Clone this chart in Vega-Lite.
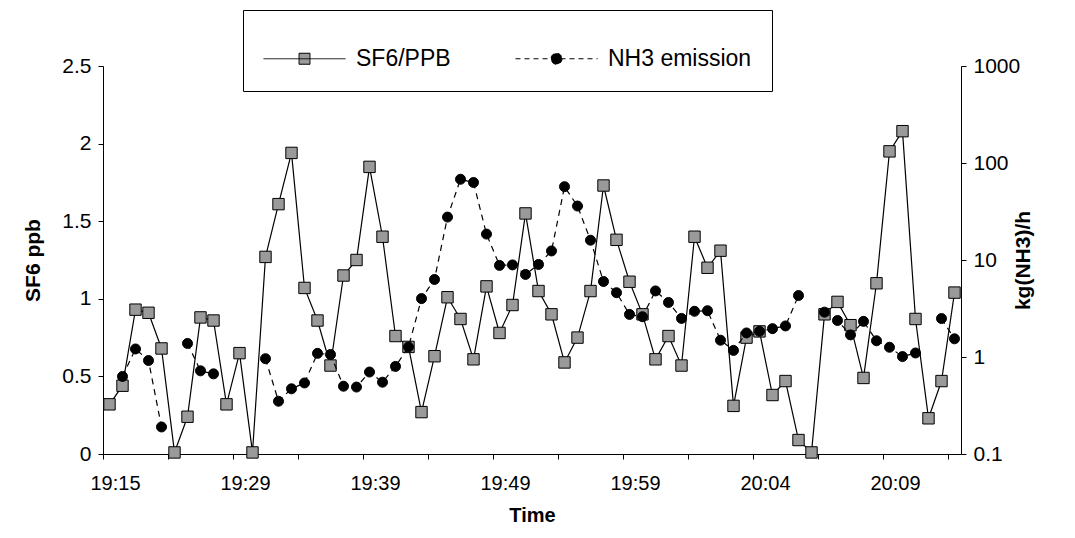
{
  "$schema": "https://vega.github.io/schema/vega-lite/v6.json",
  "width": 858,
  "height": 388,
  "autosize": "none",
  "padding": {"left": 103, "top": 66, "right": 114, "bottom": 84},
  "background": "white",
  "config": {
    "font": "Liberation Sans",
    "view": {"stroke": null},
    "axis": {"domainColor": "black", "tickColor": "black", "labelColor": "black", "titleColor": "black", "grid": false, "labelFontSize": 20, "titleFontSize": 20, "titleFontWeight": "bold", "labelFont": "Liberation Sans", "titleFont": "Liberation Sans", "tickSize": 5, "domainWidth": 1, "tickWidth": 1}
  },
  "data": {
    "values": [
      {"i": 0, "time": "19:15", "sf6": 0.32, "nh3": null},
      {"i": 1, "sf6": 0.44, "nh3": 0.63},
      {"i": 2, "sf6": 0.93, "nh3": 1.21},
      {"i": 3, "sf6": 0.91, "nh3": 0.92},
      {"i": 4, "sf6": 0.68, "nh3": 0.19},
      {"i": 5, "sf6": 0.01, "nh3": null},
      {"i": 6, "sf6": 0.24, "nh3": 1.38},
      {"i": 7, "sf6": 0.88, "nh3": 0.72},
      {"i": 8, "sf6": 0.86, "nh3": 0.67},
      {"i": 9, "sf6": 0.32, "nh3": null},
      {"i": 10, "time": "19:29", "sf6": 0.65, "nh3": null},
      {"i": 11, "sf6": 0.01, "nh3": null},
      {"i": 12, "sf6": 1.27, "nh3": 0.96},
      {"i": 13, "sf6": 1.61, "nh3": 0.35},
      {"i": 14, "sf6": 1.94, "nh3": 0.47},
      {"i": 15, "sf6": 1.07, "nh3": 0.54},
      {"i": 16, "sf6": 0.86, "nh3": 1.09},
      {"i": 17, "sf6": 0.57, "nh3": 1.06},
      {"i": 18, "sf6": 1.15, "nh3": 0.5},
      {"i": 19, "sf6": 1.25, "nh3": 0.49},
      {"i": 20, "time": "19:39", "sf6": 1.85, "nh3": 0.7},
      {"i": 21, "sf6": 1.4, "nh3": 0.55},
      {"i": 22, "sf6": 0.76, "nh3": 0.8},
      {"i": 23, "sf6": 0.69, "nh3": 1.27},
      {"i": 24, "sf6": 0.27, "nh3": 4.0},
      {"i": 25, "sf6": 0.63, "nh3": 6.3},
      {"i": 26, "sf6": 1.01, "nh3": 27.7},
      {"i": 27, "sf6": 0.87, "nh3": 68},
      {"i": 28, "sf6": 0.61, "nh3": 63},
      {"i": 29, "sf6": 1.08, "nh3": 18.5},
      {"i": 30, "time": "19:49", "sf6": 0.78, "nh3": 8.8},
      {"i": 31, "sf6": 0.96, "nh3": 8.9},
      {"i": 32, "sf6": 1.55, "nh3": 7.1},
      {"i": 33, "sf6": 1.05, "nh3": 9.0},
      {"i": 34, "sf6": 0.9, "nh3": 12.4},
      {"i": 35, "sf6": 0.59, "nh3": 57},
      {"i": 36, "sf6": 0.75, "nh3": 36},
      {"i": 37, "sf6": 1.05, "nh3": 16},
      {"i": 38, "sf6": 1.73, "nh3": 6.0},
      {"i": 39, "sf6": 1.38, "nh3": 4.6},
      {"i": 40, "time": "19:59", "sf6": 1.11, "nh3": 2.75},
      {"i": 41, "sf6": 0.9, "nh3": 2.6},
      {"i": 42, "sf6": 0.61, "nh3": 4.8},
      {"i": 43, "sf6": 0.76, "nh3": 3.65},
      {"i": 44, "sf6": 0.57, "nh3": 2.5},
      {"i": 45, "sf6": 1.4, "nh3": 2.96},
      {"i": 46, "sf6": 1.2, "nh3": 3.0},
      {"i": 47, "sf6": 1.31, "nh3": 1.49},
      {"i": 48, "sf6": 0.31, "nh3": 1.17},
      {"i": 49, "sf6": 0.75, "nh3": 1.77},
      {"i": 50, "time": "20:04", "sf6": 0.79, "nh3": 1.84},
      {"i": 51, "sf6": 0.38, "nh3": 1.96},
      {"i": 52, "sf6": 0.47, "nh3": 2.09},
      {"i": 53, "sf6": 0.09, "nh3": 4.3},
      {"i": 54, "sf6": 0.01, "nh3": null},
      {"i": 55, "sf6": 0.9, "nh3": 2.9},
      {"i": 56, "sf6": 0.98, "nh3": 2.38},
      {"i": 57, "sf6": 0.83, "nh3": 1.69},
      {"i": 58, "sf6": 0.49, "nh3": 2.33},
      {"i": 59, "sf6": 1.1, "nh3": 1.47},
      {"i": 60, "time": "20:09", "sf6": 1.95, "nh3": 1.26},
      {"i": 61, "sf6": 2.08, "nh3": 1.01},
      {"i": 62, "sf6": 0.87, "nh3": 1.1},
      {"i": 63, "sf6": 0.23, "nh3": null},
      {"i": 64, "sf6": 0.47, "nh3": 2.49},
      {"i": 65, "sf6": 1.04, "nh3": 1.54}
    ]
  },
  "layer": [
    {
      "encoding": {
        "x": {
          "field": "i", "type": "ordinal",
          "scale": {"type": "point", "padding": 0.5},
          "axis": {
            "title": "Time", "titlePadding": 12,
            "values": [0, 5, 10, 15, 20, 25, 30, 35, 40, 45, 50, 55, 60, 65],
            "labelAngle": 0, "tickOffset": -6.5, "labelOffset": 12, "labelPadding": 14,
            "labelExpr": "datum.value == 0 ? '19:15' : datum.value == 10 ? '19:29' : datum.value == 20 ? '19:39' : datum.value == 30 ? '19:49' : datum.value == 40 ? '19:59' : datum.value == 50 ? '20:04' : datum.value == 60 ? '20:09' : ''"
          }
        },
        "y": {
          "field": "sf6", "type": "quantitative",
          "scale": {"domain": [0, 2.5], "nice": false, "zero": true},
          "axis": {"title": "SF6 ppb", "orient": "left", "values": [0, 0.5, 1, 1.5, 2, 2.5], "format": "~g", "labelPadding": 7, "titlePadding": 18, "labelFontSize": 21, "titleFontSize": 21}
        }
      },
      "layer": [
        {"mark": {"type": "line", "color": "black", "strokeWidth": 1.2}},
        {"mark": {"type": "point", "shape": "square", "filled": true, "fill": "#9a9a9a", "stroke": "black", "strokeWidth": 1, "size": 130, "opacity": 1}}
      ]
    },
    {
      "encoding": {
        "x": {
          "field": "i", "type": "ordinal",
          "scale": {"type": "point", "padding": 0.5},
          "axis": {
            "title": "Time", "titlePadding": 12,
            "values": [0, 5, 10, 15, 20, 25, 30, 35, 40, 45, 50, 55, 60, 65],
            "labelAngle": 0, "tickOffset": -6.5, "labelOffset": 12, "labelPadding": 14,
            "labelExpr": "datum.value == 0 ? '19:15' : datum.value == 10 ? '19:29' : datum.value == 20 ? '19:39' : datum.value == 30 ? '19:49' : datum.value == 40 ? '19:59' : datum.value == 50 ? '20:04' : datum.value == 60 ? '20:09' : ''"
          }
        },
        "y": {
          "field": "nh3", "type": "quantitative",
          "scale": {"type": "log", "domain": [0.1, 1000], "nice": false},
          "axis": {"title": "kg(NH3)/h", "orient": "right", "values": [0.1, 1, 10, 100, 1000], "format": "~g", "labelPadding": 7, "titlePadding": 14, "titleAngle": 270, "labelFontSize": 21, "titleFontSize": 21}
        }
      },
      "layer": [
        {"mark": {"type": "line", "color": "black", "strokeWidth": 1.2, "strokeDash": [6, 5], "invalid": "break-paths-show-domains"}},
        {"mark": {"type": "point", "shape": "circle", "filled": true, "fill": "black", "stroke": "black", "strokeWidth": 1, "size": 100, "opacity": 1}}
      ]
    },
    {
      "transform": [
        {"fold": ["sf6", "nh3"], "as": ["series", "val"]},
        {"filter": "datum.i < 0"}
      ],
      "mark": {"type": "point", "filled": true, "strokeWidth": 1},
      "encoding": {
        "color": {
          "field": "series", "type": "nominal",
          "scale": {"domain": ["sf6", "nh3"], "range": ["#9a9a9a", "black"]},
          "legend": {
            "title": null, "orient": "none", "legendX": 140, "legendY": -56,
            "direction": "horizontal", "columns": 2, "strokeColor": "black", "padding": 20,
            "columnPadding": 62, "symbolSize": 3136, "labelFontSize": 23, "labelColor": "black",
            "labelOffset": 36, "labelLimit": 400, "symbolOpacity": 1, "symbolStrokeWidth": 1,
            "labelExpr": "datum.value == 'sf6' ? 'SF6/PPB' : 'NH3 emission'"
          }
        },
        "stroke": {
          "field": "series", "type": "nominal",
          "scale": {"domain": ["sf6", "nh3"], "range": ["black", "black"]},
          "legend": {
            "title": null, "orient": "none", "legendX": 140, "legendY": -56,
            "direction": "horizontal", "columns": 2, "strokeColor": "black", "padding": 20,
            "columnPadding": 62, "symbolSize": 3136, "labelFontSize": 23, "labelColor": "black",
            "labelOffset": 36, "labelLimit": 400, "symbolOpacity": 1, "symbolStrokeWidth": 1,
            "labelExpr": "datum.value == 'sf6' ? 'SF6/PPB' : 'NH3 emission'"
          }
        },
        "shape": {
          "field": "series", "type": "nominal",
          "scale": {"domain": ["sf6", "nh3"], "range": ["M-1,0H1.93M0.268,-0.196H0.661V0.196H0.268Z", "M-1,0H1.93M0.661,0A0.196,0.196,0,1,1,0.268,0A0.196,0.196,0,1,1,0.661,0Z"]},
          "legend": {
            "title": null, "orient": "none", "legendX": 140, "legendY": -56,
            "direction": "horizontal", "columns": 2, "strokeColor": "black", "padding": 20,
            "columnPadding": 62, "symbolSize": 3136, "labelFontSize": 23, "labelColor": "black",
            "labelOffset": 36, "labelLimit": 400, "symbolOpacity": 1, "symbolStrokeWidth": 1,
            "labelExpr": "datum.value == 'sf6' ? 'SF6/PPB' : 'NH3 emission'"
          }
        },
        "strokeDash": {
          "field": "series", "type": "nominal",
          "scale": {"domain": ["sf6", "nh3"], "range": [[1, 0], [5, 4]]},
          "legend": {
            "title": null, "orient": "none", "legendX": 140, "legendY": -56,
            "direction": "horizontal", "columns": 2, "strokeColor": "black", "padding": 20,
            "columnPadding": 62, "symbolSize": 3136, "labelFontSize": 23, "labelColor": "black",
            "labelOffset": 36, "labelLimit": 400, "symbolOpacity": 1, "symbolStrokeWidth": 1,
            "labelExpr": "datum.value == 'sf6' ? 'SF6/PPB' : 'NH3 emission'"
          }
        }
      }
    }
  ],
  "resolve": {"scale": {"y": "independent"}}
}
